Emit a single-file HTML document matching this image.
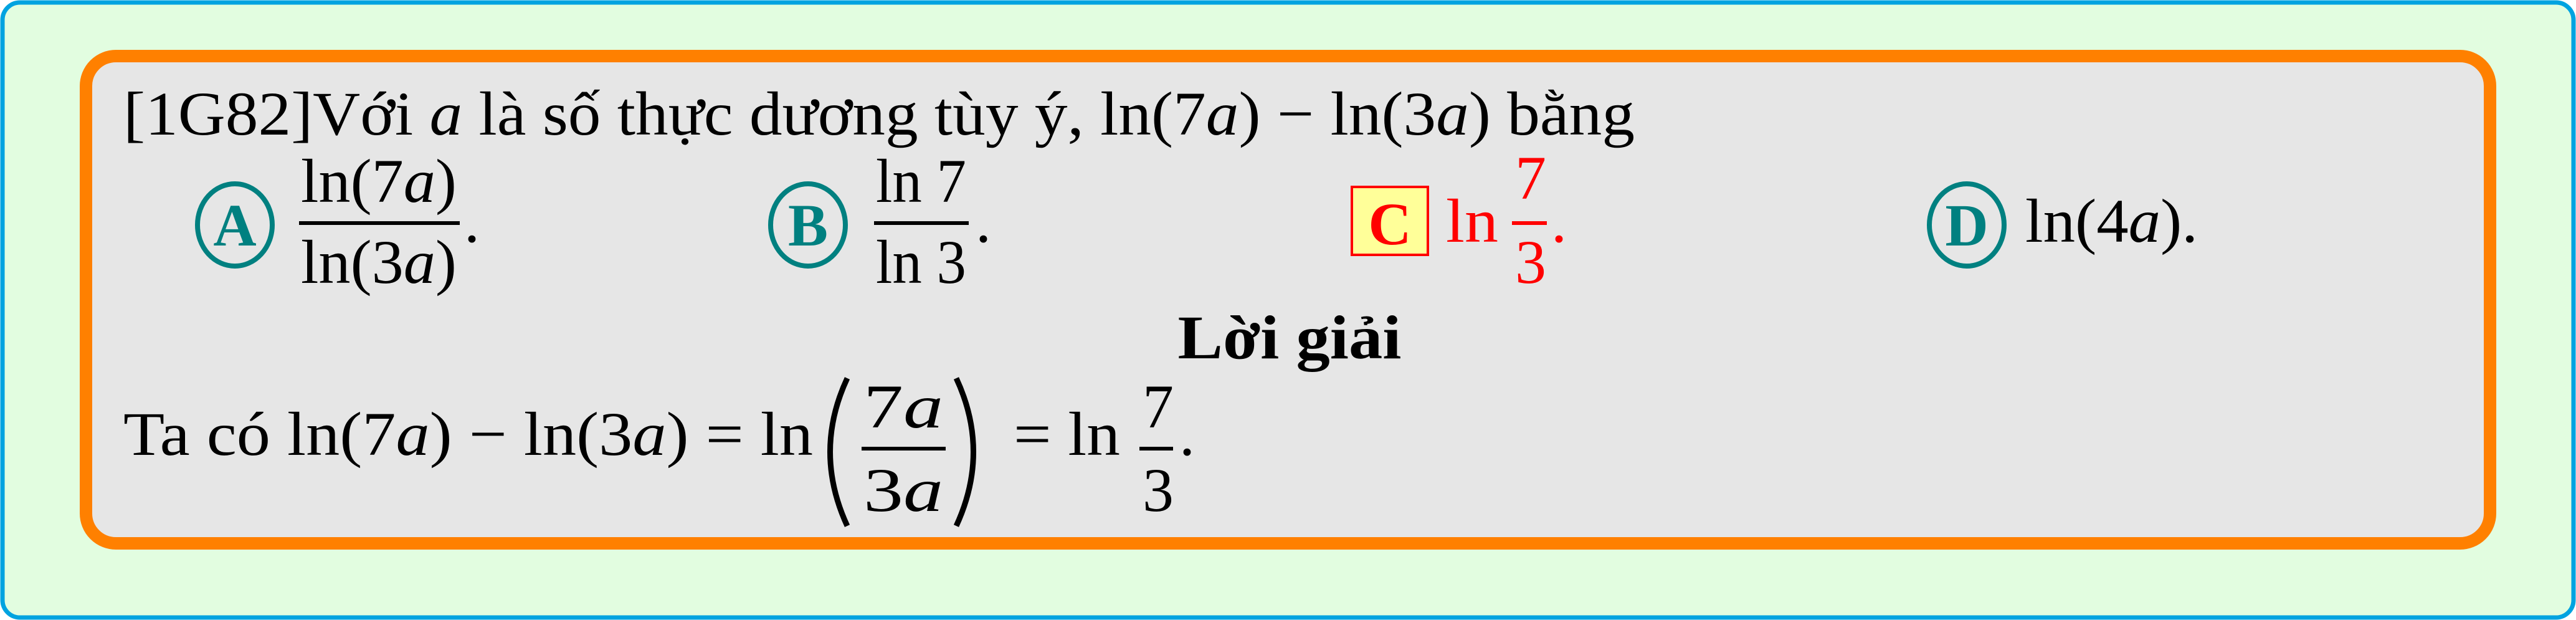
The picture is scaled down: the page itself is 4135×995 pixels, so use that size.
<!DOCTYPE html>
<html><head><meta charset="utf-8"><style>
html,body{margin:0;padding:0;background:#fff}
svg{display:block}
text{font-family:"Liberation Serif",serif}
</style></head><body>
<svg width="4135" height="995" viewBox="0 0 4135 995">
<rect x="4" y="4" width="4127" height="987" rx="28" fill="#e2fde0" stroke="#00a3e0" stroke-width="7"/>
<rect x="138" y="90" width="3859" height="782" rx="48" fill="#e6e6e6" stroke="#ff8000" stroke-width="20"/>
<g font-size="100" fill="#000">
<text x="198" y="216" textLength="2426" lengthAdjust="spacingAndGlyphs">[1G82]Với <tspan font-style="italic">a</tspan> là số thực dương tùy ý, ln(7<tspan font-style="italic">a</tspan>) − ln(3<tspan font-style="italic">a</tspan>) bằng</text>

<g>
<ellipse cx="377" cy="361" rx="60" ry="66" fill="none" stroke="#008080" stroke-width="8"/>
<text x="377" y="394" text-anchor="middle" fill="#008080" font-weight="bold" font-size="96">A</text>
<text x="483" y="324" textLength="250" lengthAdjust="spacingAndGlyphs">ln(7<tspan font-style="italic">a</tspan>)</text>
<rect x="480" y="355" width="258" height="6" fill="#000"/>
<text x="483" y="454" textLength="250" lengthAdjust="spacingAndGlyphs">ln(3<tspan font-style="italic">a</tspan>)</text>
<text x="745" y="388">.</text>
</g>

<g>
<ellipse cx="1297" cy="361" rx="60" ry="66" fill="none" stroke="#008080" stroke-width="8"/>
<text x="1297" y="394" text-anchor="middle" fill="#008080" font-weight="bold" font-size="96">B</text>
<text x="1406" y="324" textLength="145" lengthAdjust="spacingAndGlyphs">ln 7</text>
<rect x="1403" y="355" width="152" height="6" fill="#000"/>
<text x="1406" y="454" textLength="145" lengthAdjust="spacingAndGlyphs">ln 3</text>
<text x="1566" y="388">.</text>
</g>

<g>
<rect x="2170" y="300" width="122" height="109" fill="#ffff99" stroke="#ff0000" stroke-width="4"/>
<text x="2231" y="392" text-anchor="middle" fill="#ff0000" font-weight="bold" font-size="96">C</text>
<g fill="#ff0000">
<text x="2321" y="388" textLength="84" lengthAdjust="spacingAndGlyphs">ln</text>
<text x="2432" y="319">7</text>
<rect x="2427" y="355" width="56" height="6"/>
<text x="2432" y="454">3</text>
<text x="2490" y="388">.</text>
</g>
</g>

<g>
<ellipse cx="3157" cy="361" rx="60" ry="66" fill="none" stroke="#008080" stroke-width="8"/>
<text x="3157" y="394" text-anchor="middle" fill="#008080" font-weight="bold" font-size="96">D</text>
<text x="3251" y="388" textLength="277" lengthAdjust="spacingAndGlyphs">ln(4<tspan font-style="italic">a</tspan>).</text>
</g>

<text x="2070" y="575" text-anchor="middle" font-weight="bold" textLength="359" lengthAdjust="spacingAndGlyphs">Lời giải</text>

<g>
<text x="198" y="730" textLength="1107" lengthAdjust="spacingAndGlyphs">Ta có ln(7<tspan font-style="italic">a</tspan>) − ln(3<tspan font-style="italic">a</tspan>) = ln</text>
<path d="M1360 607 Q1305 725 1360 844" fill="none" stroke="#000" stroke-width="9"/>
<text x="1386" y="686" textLength="128" lengthAdjust="spacingAndGlyphs">7<tspan font-style="italic">a</tspan></text>
<rect x="1383" y="717" width="135" height="6" fill="#000"/>
<text x="1386" y="820" textLength="128" lengthAdjust="spacingAndGlyphs">3<tspan font-style="italic">a</tspan></text>
<path d="M1535 607 Q1590 725 1535 844" fill="none" stroke="#000" stroke-width="9"/>
<text x="1627" y="730" textLength="171" lengthAdjust="spacingAndGlyphs">= ln</text>
<text x="1834" y="686">7</text>
<rect x="1829" y="717" width="54" height="6" fill="#000"/>
<text x="1834" y="820">3</text>
<text x="1893" y="730">.</text>
</g>
</g>
</svg>
</body></html>
